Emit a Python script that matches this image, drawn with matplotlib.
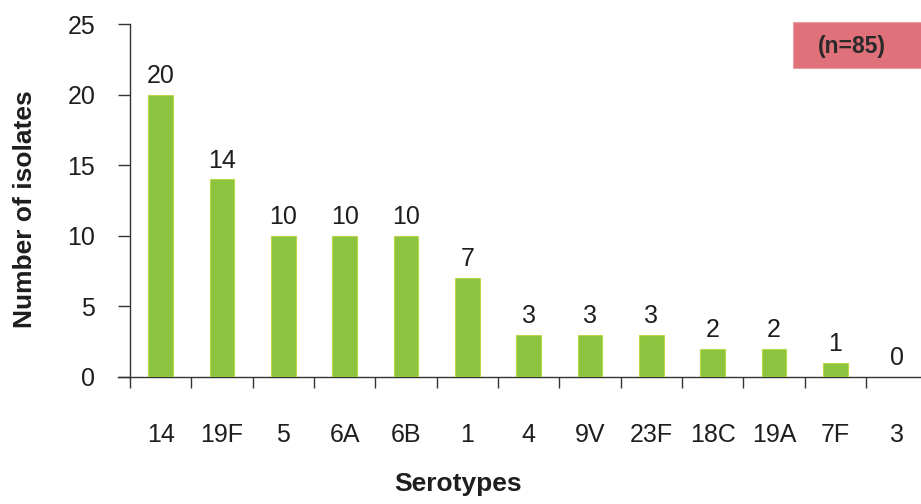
import matplotlib
matplotlib.use("Agg")
import matplotlib.pyplot as plt
from matplotlib.patches import Rectangle
from matplotlib.ticker import FixedLocator, NullFormatter

plt.rcParams['font.family'] = ['Liberation Sans', 'DejaVu Sans']

# Serotype distribution among isolates
serotypes = ["14", "19F", "5", "6A", "6B", "1", "4", "9V", "23F", "18C", "19A", "7F", "3"]
counts = [20, 14, 10, 10, 10, 7, 3, 3, 3, 2, 2, 1, 0]
y_ticks = [0, 5, 10, 15, 20, 25]
total_label = "(n=85)"

W, H = 921, 504
fig = plt.figure(figsize=(W / 100, H / 100), dpi=100)

# axes geometry in pixels
ax_left, ax_right, ax_bottom, ax_top = 118, 921, 377, 24
cat_w = 61.33
ax = fig.add_axes([ax_left / W, 1 - ax_bottom / H,
                   (ax_right - ax_left) / W, (ax_bottom - ax_top) / H])

x0 = -0.5 - (130 - ax_left) / cat_w
x1 = -0.5 + (ax_right - 130) / cat_w
ax.set_xlim(x0, x1)
ax.set_ylim(0, 25)

text_col = "#1e1e1e"
axis_col = "#333333"

xs = list(range(len(serotypes)))
ax.bar(xs, counts, width=0.40, color="#8cc43f", edgecolor="#b8d84a",
       linewidth=0.8, zorder=3)

for x, v in zip(xs, counts):
    ax.annotate(str(v), (x, v), xytext=(0, 8.5), textcoords="offset points",
                ha="center", va="baseline", fontsize=18, color=text_col)

# spines
for s in ("top", "right"):
    ax.spines[s].set_visible(False)
ax.spines["left"].set_position(("data", -0.5))
for s in ("left", "bottom"):
    ax.spines[s].set_color(axis_col)
    ax.spines[s].set_linewidth(1.0)

# y axis ticks
ax.set_yticks(y_ticks)
ax.set_yticklabels([str(t) for t in y_ticks])
ax.tick_params(axis="y", direction="out", length=8.6, width=1.0,
               color=axis_col, pad=16.5, labelsize=18, labelcolor=text_col)

# x axis: boundary ticks, labels centred between them
ax.xaxis.set_major_locator(FixedLocator([i - 0.5 for i in xs]))
ax.xaxis.set_major_formatter(NullFormatter())
ax.xaxis.set_minor_locator(FixedLocator(xs))
ax.set_xticklabels(serotypes, minor=True)
ax.tick_params(axis="x", which="major", direction="out", length=8,
               width=1.0, color=axis_col)
ax.tick_params(axis="x", which="minor", length=0, pad=33, labelsize=18,
               labelcolor=text_col)

# axis titles
fig.text(25 / W, 1 - 209 / H, "Number of isolates", rotation=90,
         ha="center", va="center", fontsize=19, fontweight="bold",
         color=text_col)
fig.text(458 / W, 1 - 484 / H, "Serotypes", ha="center", va="center",
         fontsize=19, fontweight="bold", color=text_col)

# sample size box
box = Rectangle((793 / W, 1 - 68 / H), (921 - 793) / W, (68 - 22) / H,
                transform=fig.transFigure, facecolor="#e07079",
                edgecolor="#eaa0a6", linewidth=0.8)
fig.patches.append(box)
fig.text(852 / W, 1 - 46 / H, total_label, ha="center", va="center",
         fontsize=16.5, fontweight="bold", color="#2a2a2a")

fig.savefig("out.png", dpi=100)
